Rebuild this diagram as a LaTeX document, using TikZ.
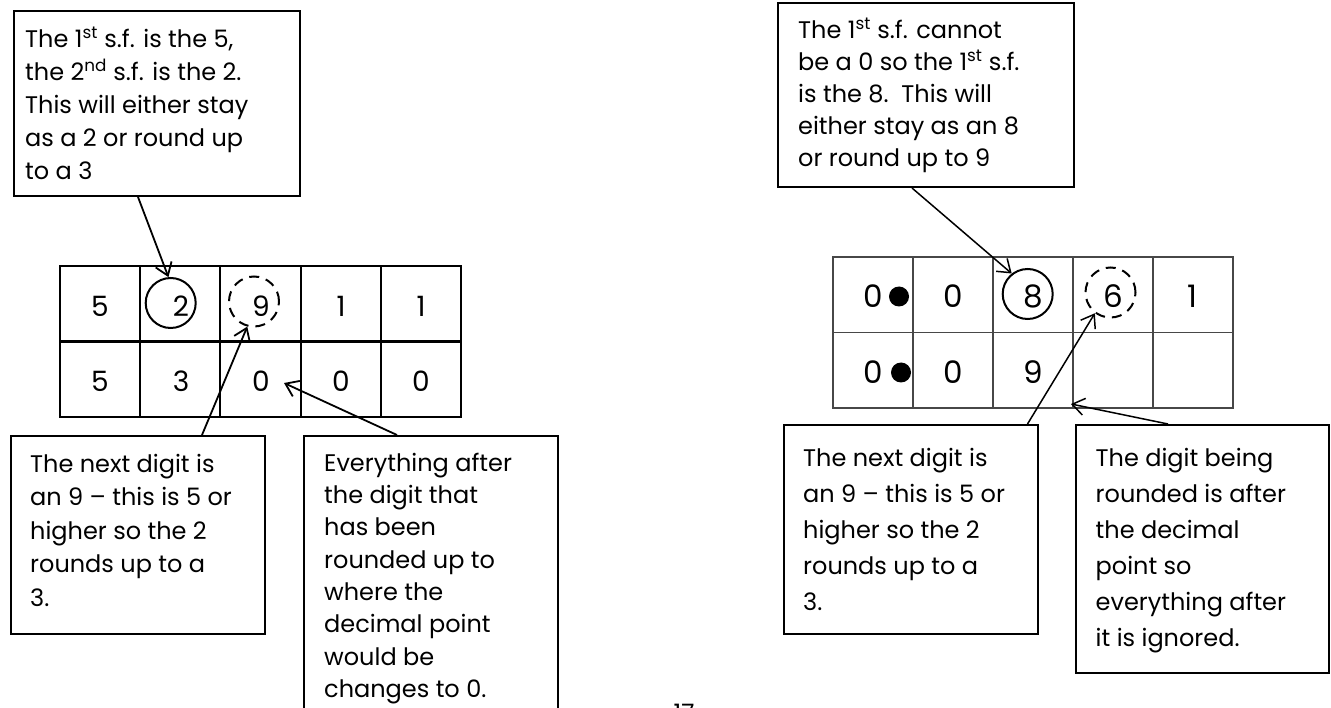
\documentclass[tikz,border=0pt]{standalone}
\usepackage{fontspec}
\setmainfont{Poppins}
\usetikzlibrary{arrows.meta,calc}
\begin{document}
\begin{tikzpicture}[x=1pt,y=-1pt,
  box/.style={draw, line width=2pt, inner sep=0pt, anchor=north west},
  txt/.style={inner sep=0pt, anchor=north west, align=left},
  sA/.style={font=\fontsize{24}{33}\selectfont},
  sB/.style={font=\fontsize{24}{33.5}\selectfont},
  sC/.style={font=\fontsize{24}{32.3}\selectfont},
  sF/.style={font=\fontsize{24}{32}\selectfont},
  sD/.style={font=\fontsize{24}{36}\selectfont},
  tblL/.style={line width=2.2pt},
  tblR/.style={line width=1.3pt, draw=black!72},
  digL/.style={inner sep=0pt, anchor=base, font=\fontsize{28}{30}\selectfont},
  digR/.style={inner sep=0pt, anchor=base, font=\fontsize{31}{33}\selectfont},
  ring/.style={circle, draw, line width=2pt, minimum size=50pt, inner sep=0pt},
  dring/.style={ring, dash pattern=on 10pt off 7pt},
  dot/.style={circle, fill, minimum size=20pt, inner sep=0pt},
  arrL/.style={line width=1.8pt, -{Straight Barb[length=12pt,width=17pt,line width=1.8pt]}},
  arrR/.style={line width=1.5pt, -{Straight Barb[length=12pt,width=17pt,line width=1.5pt]}}
]
\useasboundingbox (0,0) rectangle (1331,708);
\clip (0,0) rectangle (1331,708);

% ---------- left table ----------
\draw[tblL] (60,266) rectangle (461,417);
\draw[tblL] (60,341.5) -- (461,341.5);
\foreach \x in {140,220,301,381} \draw[tblL] (\x,266) -- (\x,417);

\node[digL] (l11) at (100,317) {5};
\node[digL] (l12) at (181,317) {2};
\node[digL] (l13) at (261,317) {9};
\node[digL] (l14) at (341,317) {1};
\node[digL] (l15) at (421,317) {1};
\node[digL] (l21) at (100,392) {5};
\node[digL] (l22) at (181,392) {3};
\node[digL] (l23) at (261,392) {0};
\node[digL] (l24) at (341,392) {0};
\node[digL] (l25) at (421,392) {0};

\node[ring]  (cL1) at (170.7,303) {};
\node[dring] (cL2) at (254,301.5) {};
\coordinate (tL3) at (284,383);

% ---------- left boxes ----------
\node[box, minimum width=286pt, minimum height=185pt] (boxA) at (13,10) {};
\node[txt, sA] (tA) at (25,23) {\rule{0pt}{24pt}The 1\textsuperscript{st} s.f. is the 5,\\
the 2\textsuperscript{nd} s.f. is the 2.\\
This will either stay\\
as a 2 or round up\\
to a 3};

\node[box, minimum width=254pt, minimum height=198pt] (boxB) at (10,435) {};
\node[txt, sB] (tB) at (30,448) {\rule{0pt}{24pt}The next digit is\\
an 9 – this is 5 or\\
higher so the 2\\
rounds up to a\\
3.};

\node[box, minimum width=254pt, minimum height=300pt] (boxC) at (303,435) {};
\node[txt, sC] (tC) at (324,447) {\rule{0pt}{24pt}Everything after\\
the digit that\\
has been\\
rounded up to\\
where the\\
decimal point\\
would be\\
changes to 0.};

\draw[arrL] ($(boxA.south west)+(125,0)$) -- (cL1.95);
\draw[arrL] ($(boxB.north west)+(192,0)$) -- (cL2.255);
\draw[arrL] ($(boxC.north west)+(94,0)$) -- (tL3);

% ---------- right table ----------
\draw[tblR] (833,257) rectangle (1233,408);
\draw[tblR] (833,332.5) -- (1233,332.5);
\foreach \x in {913,993,1073,1153} \draw[tblR] (\x,257) -- (\x,408);

\node[digR] (r11) at (873.5,308) {0};
\node[dot]  (p1)  at (899,296.5) {};
\node[digR] (r12) at (953,308) {0};
\node[digR] (r13) at (1033.5,308) {8};
\node[digR] (r14) at (1113,308) {6};
\node[digR] (r15) at (1192,308) {1};
\node[digR] (r21) at (873.5,384) {0};
\node[dot]  (p2)  at (901,372.5) {};
\node[digR] (r22) at (953,384) {0};
\node[digR] (r23) at (1033,384) {9};

\node[ring]  (cR1) at (1027.7,294) {};
\node[dring] (cR2) at (1110.5,292.5) {};
\coordinate (tR3) at (1071,404);

% ---------- right boxes ----------
\node[box, minimum width=296pt, minimum height=184pt] (boxF) at (777,2) {};
\node[txt, sF] (tF) at (798,14) {\rule{0pt}{24pt}The 1\textsuperscript{st} s.f. cannot\\
be a 0 so the 1\textsuperscript{st} s.f.\\
is the 8.\ \ This will\\
either stay as an 8\\
or round up to 9};

\node[box, minimum width=254pt, minimum height=209pt] (boxD) at (782.5,424) {};
\node[txt, sD] (tD) at (803,442) {\rule{0pt}{24pt}The next digit is\\
an 9 – this is 5 or\\
higher so the 2\\
rounds up to a\\
3.};

\node[box, minimum width=253pt, minimum height=248pt] (boxE) at (1075,424) {};
\node[txt, sD] (tE) at (1095.5,442) {\rule{0pt}{24pt}The digit being\\
rounded is after\\
the decimal\\
point so\\
everything after\\
it is ignored.};

\draw[arrR] ($(boxF.south west)+(135,0)$) -- (cR1.128);
\draw[arrR] ($(boxD.north west)+(245,0)$) -- (cR2.233);
\draw[arrR] ($(boxE.north west)+(93,0)$) -- (tR3);

% ---------- page number ----------
\node[inner sep=0pt, anchor=base, font=\fontsize{24}{26}\selectfont] (pg) at (684,721) {17};
\end{tikzpicture}
\end{document}
